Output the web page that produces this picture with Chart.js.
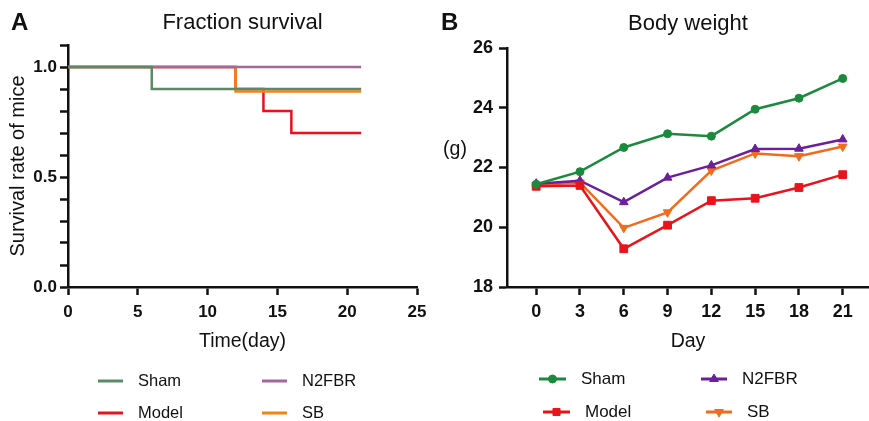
<!DOCTYPE html>
<html>
<head>
<meta charset="utf-8">
<script src="https://cdn.jsdelivr.net/npm/chart.js@4.4.1/dist/chart.umd.min.js"></script>
<style>
  html, body { margin: 0; padding: 0; background: #fff; }
  #wrap { position: relative; width: 869px; height: 421px; overflow: hidden; }
  canvas { position: absolute; top: 0; }
  #survival { left: 0; }
  #weight { left: 434px; }
</style>
</head>
<body>
<div id="wrap">
  <canvas id="survival" width="435" height="421"></canvas>
  <canvas id="weight" width="435" height="421"></canvas>
</div>
<script>
"use strict";

// panel A: fraction survival (step curves)
const groups = ['Sham', 'Model', 'N2FBR', 'SB'];
const shamDays = [0, 6, 21];
const shamSurvival = [1, 0.9, 0.9];
const modelDays = [0, 12, 14, 16, 21];
const modelSurvival = [1, 0.9, 0.8, 0.7, 0.7];
const n2fbrDays = [0, 21];
const n2fbrSurvival = [1, 1];
const sbDays = [0, 12, 21];
const sbSurvival = [1, 0.889, 0.889];
const timeTicks = [0, 5, 10, 15, 20, 25];
const survivalLabelTicks = [0, 0.5, 1.0];

// panel B: body weight (g)
const days = [0, 3, 6, 9, 12, 15, 18, 21];
const shamWeight = [21.44, 21.86, 22.67, 23.13, 23.05, 23.95, 24.32, 24.98];
const modelWeight = [21.37, 21.40, 19.28, 20.07, 20.89, 20.97, 21.33, 21.76];
const n2fbrWeight = [21.46, 21.56, 20.84, 21.66, 22.07, 22.62, 22.63, 22.94];
const sbWeight = [21.41, 21.50, 19.98, 20.50, 21.90, 22.47, 22.38, 22.70];

const FONT = "'Liberation Sans', Arial, sans-serif";
const INK = '#111';
Chart.defaults.font.family = FONT;
Chart.defaults.color = INK;

function points(xs, ys) {
  return xs.map((x, i) => ({x: x, y: ys[i]}));
}

// legend laid out as a 2x2 grid under each panel
const gridLegend = {
  id: 'gridLegend',
  afterDraw(chart, args, opts) {
    const ctx = chart.ctx;
    ctx.save();
    ctx.font = opts.font;
    ctx.textBaseline = 'middle';
    ctx.textAlign = 'left';
    chart.data.datasets.forEach((ds, i) => {
      const s = opts.slots[i];
      ctx.strokeStyle = ds.borderColor;
      ctx.lineWidth = opts.lineWidth;
      ctx.beginPath();
      ctx.moveTo(s.x, s.y);
      ctx.lineTo(s.x + s.len, s.y);
      ctx.stroke();
      if (opts.markers) {
        ctx.fillStyle = ds.backgroundColor;
        ctx.lineWidth = 1;
        Chart.helpers.drawPoint(ctx, {
          pointStyle: ds.pointStyle,
          rotation: ds.pointRotation || 0,
          radius: opts.markerRadius[i],
          borderWidth: 1
        }, s.x + s.len / 2, s.y);
      }
      ctx.fillStyle = INK;
      ctx.fillText(ds.label, s.tx, s.y);
    });
    ctx.restore();
  }
};

// loose text: panel letters, horizontal y unit
const panelText = {
  id: 'panelText',
  afterDraw(chart, args, opts) {
    const ctx = chart.ctx;
    ctx.save();
    ctx.fillStyle = INK;
    ctx.textBaseline = 'middle';
    (opts.items || []).forEach(it => {
      ctx.font = it.font;
      ctx.textAlign = it.align || 'left';
      ctx.fillText(it.text, it.x, it.y);
    });
    ctx.restore();
  }
};

function axis(extra) {
  return Object.assign({
    type: 'linear',
    border: {color: INK, width: 2.5},
    grid: {drawOnChartArea: false, drawTicks: true, tickLength: 8, tickWidth: 2.5, tickColor: INK},
  }, extra);
}

// ---- panel A
const survivalColors = ['#5a8a68', '#e8121c', '#a4669c', '#f5830f'];
const survivalOrder = [0, 3, 1, 2];
const survivalData = [
  points(shamDays, shamSurvival),
  points(modelDays, modelSurvival),
  points(n2fbrDays, n2fbrSurvival),
  points(sbDays, sbSurvival)
];

new Chart(document.getElementById('survival'), {
  type: 'line',
  data: {
    datasets: groups.map((g, i) => ({
      label: g,
      data: survivalData[i],
      borderColor: survivalColors[i],
      backgroundColor: survivalColors[i],
      borderWidth: 2.5,
      stepped: true,
      pointRadius: 0,
      fill: false,
      order: survivalOrder[i]
    }))
  },
  options: {
    responsive: false,
    animation: false,
    devicePixelRatio: 1,
    layout: {autoPadding: false, padding: {left: 0, right: 18, top: 0, bottom: 68}},
    scales: {
      x: axis({
        min: 0, max: 25,
        afterBuildTicks: s => { s.ticks = timeTicks.map(v => ({value: v})); },
        afterFit: s => { s.height = 66; },
        ticks: {color: INK, font: {size: 17, weight: 'bold'}, padding: 7, maxRotation: 0, autoSkip: false},
        title: {display: true, text: 'Time(day)', color: INK, font: {size: 19.5}, padding: {top: 0, bottom: 0}}
      }),
      y: axis({
        min: 0, max: 1.1,
        afterFit: s => { s.width = 68; },
        ticks: {
          stepSize: 0.1, autoSkip: false, color: INK, padding: 3,
          font: {size: 17, weight: 'bold'},
          callback: v => survivalLabelTicks.some(t => Math.abs(t - v) < 1e-6) ? v.toFixed(1) : ''
        },
        title: {display: true, text: 'Survival rate of mice', color: INK, font: {size: 20}, padding: {top: 6, bottom: 0}}
      })
    },
    plugins: {
      legend: {display: false},
      tooltip: {enabled: false},
      title: {
        display: true, text: 'Fraction survival', color: INK, fullSize: false,
        font: {size: 22, weight: 'normal'}, padding: {top: 9.8, bottom: 8.8}
      },
      gridLegend: {
        font: '16.5px ' + FONT, lineWidth: 3, markers: false,
        slots: [
          {x: 98, y: 381, len: 25, tx: 138},
          {x: 98, y: 413, len: 25, tx: 138},
          {x: 262, y: 381, len: 25, tx: 302},
          {x: 262, y: 413, len: 25, tx: 302}
        ]
      },
      panelText: {items: [{text: 'A', x: 11, y: 23, font: 'bold 24px ' + FONT}]}
    }
  },
  plugins: [gridLegend, panelText]
});

// ---- panel B
const weightColors = ['#1b8a3e', '#e8141c', '#6c1f9b', '#f26b1d'];
const weightStyles = ['circle', 'rect', 'triangle', 'triangle'];
const weightRotation = [0, 0, 0, 180];
const weightRadius = [4, 5.5, 5, 5];
const weightData = [
  points(days, shamWeight),
  points(days, modelWeight),
  points(days, n2fbrWeight),
  points(days, sbWeight)
];

new Chart(document.getElementById('weight'), {
  type: 'line',
  data: {
    datasets: groups.map((g, i) => ({
      label: g,
      data: weightData[i],
      borderColor: weightColors[i],
      backgroundColor: weightColors[i],
      borderWidth: 2.5,
      pointStyle: weightStyles[i],
      pointRotation: weightRotation[i],
      pointRadius: weightRadius[i],
      pointBorderWidth: 1,
      fill: false,
      order: i
    }))
  },
  options: {
    responsive: false,
    animation: false,
    devicePixelRatio: 1,
    layout: {autoPadding: false, padding: {left: 0, right: 0, top: 0, bottom: 68}},
    scales: {
      x: axis({
        min: -2, max: 22.8,
        afterBuildTicks: s => { s.ticks = days.map(v => ({value: v})); },
        afterFit: s => { s.height = 66; },
        ticks: {color: INK, font: {size: 18, weight: 'bold'}, padding: 6, maxRotation: 0, autoSkip: false},
        title: {display: true, text: 'Day', color: INK, font: {size: 19.5}, padding: {top: 0, bottom: 0}}
      }),
      y: axis({
        min: 18, max: 26,
        afterFit: s => { s.width = 73; },
        ticks: {stepSize: 2, color: INK, padding: 6, font: {size: 18, weight: 'bold'}}
      })
    },
    plugins: {
      legend: {display: false},
      tooltip: {enabled: false},
      title: {
        display: true, text: 'Body weight', color: INK, fullSize: false,
        font: {size: 22, weight: 'normal'}, padding: {top: 10.8, bottom: 10.8}
      },
      gridLegend: {
        font: '17px ' + FONT, lineWidth: 3, markers: true, markerRadius: [4, 5, 5, 5],
        slots: [
          {x: 105, y: 379, len: 27, tx: 147},
          {x: 109, y: 412, len: 27, tx: 151},
          {x: 267, y: 379, len: 26, tx: 308},
          {x: 272, y: 412, len: 26, tx: 313}
        ]
      },
      panelText: {items: [
        {text: 'B', x: 7, y: 23, font: 'bold 24px ' + FONT},
        {text: '(g)', x: 21, y: 150, align: 'center', font: '19.5px ' + FONT}
      ]}
    }
  },
  plugins: [gridLegend, panelText]
});
</script>
</body>
</html>
